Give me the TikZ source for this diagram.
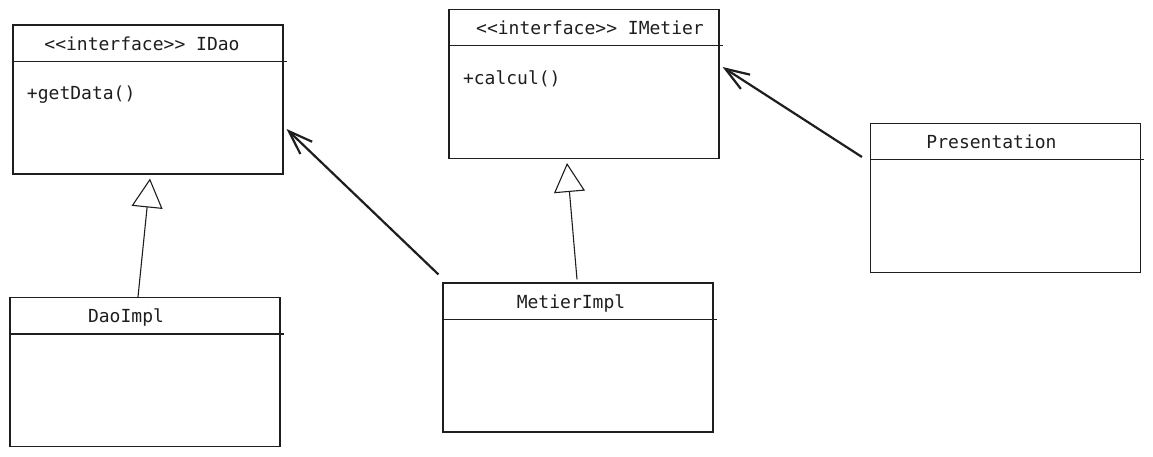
\documentclass[tikz,border=0pt]{standalone}
\usepackage{fontspec}
\newfontfamily\sketchfont{DejaVu Sans Mono}
\usetikzlibrary{arrows.meta,calc}
\definecolor{ink}{HTML}{1E1E1E}

\begin{document}
\begin{tikzpicture}[x=1pt,y=-1pt,line width=1.1,>=Stealth,
  classbox/.style={draw=ink,minimum width=270pt,minimum height=149pt,inner sep=0},
  txt/.style={font=\sketchfont\fontsize{18}{21}\selectfont,text=ink,inner sep=0,anchor=base},
  inherit/.style={draw=ink,line width=1.1,-{Triangle[open,length=29pt,width=31pt]}},
  assoc/.style={draw=ink,line width=2.2,-{Straight Barb[length=24pt,width=17pt]}}]
\useasboundingbox (0,0) rectangle (1153,457);
% ---------- classes: box, header rule, name ----------
\foreach \n/\cx/\cy/\dx/\t in {
  idao/148/99.5/-6/{\textless\textless interface\textgreater\textgreater\ IDao},
  imetier/584/84/6/{\textless\textless interface\textgreater\textgreater\ IMetier},
  presentation/1005.5/198/-14/{Presentation},
  daoimpl/145/372/-19/{DaoImpl},
  metierimpl/578/357.5/-7/{MetierImpl}}{
  \node[classbox] (\n) at (\cx,\cy) {};
  \draw[ink] ([yshift=-37pt]\n.north west) -- ([shift={(3pt,-37pt)}]\n.north east);
  \node[txt] (\n-name) at ([shift={(\dx pt,-26pt)}]\n.north) {\t};}
% ---------- operations ----------
\node[txt,anchor=base west] (idao-op) at ([shift={(14pt,-75pt)}]idao.north west) {+getData()};
\node[txt,anchor=base west] (imetier-op) at ([shift={(14pt,-76pt)}]imetier.north west) {+calcul()};
% ---------- realisation (open triangles) ----------
\draw[inherit] ([xshift=-7pt]daoimpl.north) -- ([shift={(2pt,-4pt)}]idao.south);
\draw[inherit] ([shift={(-1pt,3pt)}]metierimpl.north) -- ([shift={(-17pt,-4pt)}]imetier.south);
% ---------- dependencies ----------
\draw[assoc] ([shift={(-4pt,8pt)}]metierimpl.north west) -- ([shift={(3pt,-29.5pt)}]idao.east);
\draw[assoc] ([shift={(-8pt,41pt)}]presentation.west) -- ([shift={(3pt,17pt)}]imetier.east);
\end{tikzpicture}
\end{document}
